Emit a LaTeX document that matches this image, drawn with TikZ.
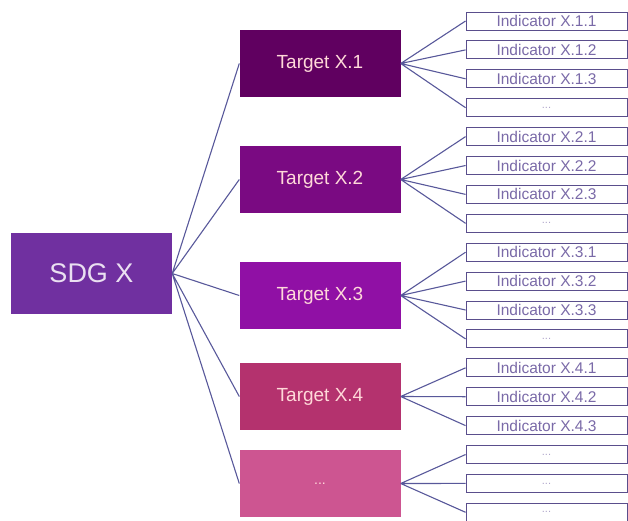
\documentclass[tikz,border=0pt]{standalone}
\usepackage{fontspec}
\setmainfont{Liberation Sans}
\usepackage{tikz}
\definecolor{goalc}{HTML}{7030A0}
\definecolor{tgA}{HTML}{600060}
\definecolor{tgB}{HTML}{7A0A82}
\definecolor{tgC}{HTML}{9010A5}
\definecolor{tgD}{HTML}{B4326E}
\definecolor{tgE}{HTML}{CD5591}
\definecolor{linec}{HTML}{58589A}
\definecolor{indc}{HTML}{5A4E8C}
\definecolor{indtxt}{HTML}{7A6AA8}
\tikzset{
  box/.style={rectangle,inner sep=0pt,minimum width=161pt},
  goal/.style={box,fill=goalc,minimum height=81pt,text=white!85!goalc,font=\fontsize{27}{30}\selectfont},
  tg/.style={box,minimum height=67pt,text=pink!60!white,font=\fontsize{19}{22}\selectfont},
  ind/.style={box,draw=indc,line width=0.9pt,fill=white,minimum height=18pt,text=indtxt,font=\fontsize{15.5}{16}\selectfont},
  more/.style={ind,text=indtxt!60!white,font=\fontsize{11}{12}\selectfont},
  ln/.style={draw=linec,line width=1.1pt},
}
\begin{document}
\begin{tikzpicture}[x=1pt,y=-1pt]
\useasboundingbox (0,0) rectangle (628,520);
\node[goal] (sdg) at (91.5,273.5) {SDG X};
\node[tg,fill=tgA] (t1) at (320,63.5) {Target X.1}; \node[tg,fill=tgB] (t2) at (320,179.5) {Target X.2};
\node[tg,fill=tgC] (t3) at (320,295.5) {Target X.3}; \node[tg,fill=tgD] (t4) at (320,396.5) {Target X.4};
\node[tg,fill=tgE,font=\fontsize{14}{16}\selectfont] (t5) at (320,483.5) {...};
\node[ind] (i11) at (546.5,21) {Indicator X.1.1}; \node[ind] (i12) at (546.5,49.9) {Indicator X.1.2};
\node[ind] (i13) at (546.5,78.8) {Indicator X.1.3}; \node[more] (i14) at (546.5,107.7) {...};
\node[ind] (i21) at (546.5,136.6) {Indicator X.2.1}; \node[ind] (i22) at (546.5,165.5) {Indicator X.2.2};
\node[ind] (i23) at (546.5,194.4) {Indicator X.2.3}; \node[more] (i24) at (546.5,223.3) {...};
\node[ind] (i31) at (546.5,252.2) {Indicator X.3.1}; \node[ind] (i32) at (546.5,281.1) {Indicator X.3.2};
\node[ind] (i33) at (546.5,310) {Indicator X.3.3}; \node[more] (i34) at (546.5,338.9) {...};
\node[ind] (i41) at (546.5,367.8) {Indicator X.4.1}; \node[ind] (i42) at (546.5,396.7) {Indicator X.4.2};
\node[ind] (i43) at (546.5,425.6) {Indicator X.4.3};
\node[more] (i51) at (546.5,454.5) {...}; \node[more] (i52) at (546.5,483.4) {...}; \node[more] (i53) at (546.5,512.3) {...};
\draw[ln] (sdg.east)--(t1.west) (sdg.east)--(t2.west) (sdg.east)--(t3.west) (sdg.east)--(t4.west) (sdg.east)--(t5.west);
\draw[ln] (t1.east)--(i11.west) (t1.east)--(i12.west) (t1.east)--(i13.west) (t1.east)--(i14.west);
\draw[ln] (t2.east)--(i21.west) (t2.east)--(i22.west) (t2.east)--(i23.west) (t2.east)--(i24.west);
\draw[ln] (t3.east)--(i31.west) (t3.east)--(i32.west) (t3.east)--(i33.west) (t3.east)--(i34.west);
\draw[ln] (t4.east)--(i41.west) (t4.east)--(i42.west) (t4.east)--(i43.west);
\draw[ln] (t5.east)--(i51.west) (t5.east)--(i52.west) (t5.east)--(i53.west);
\end{tikzpicture}
\end{document}
